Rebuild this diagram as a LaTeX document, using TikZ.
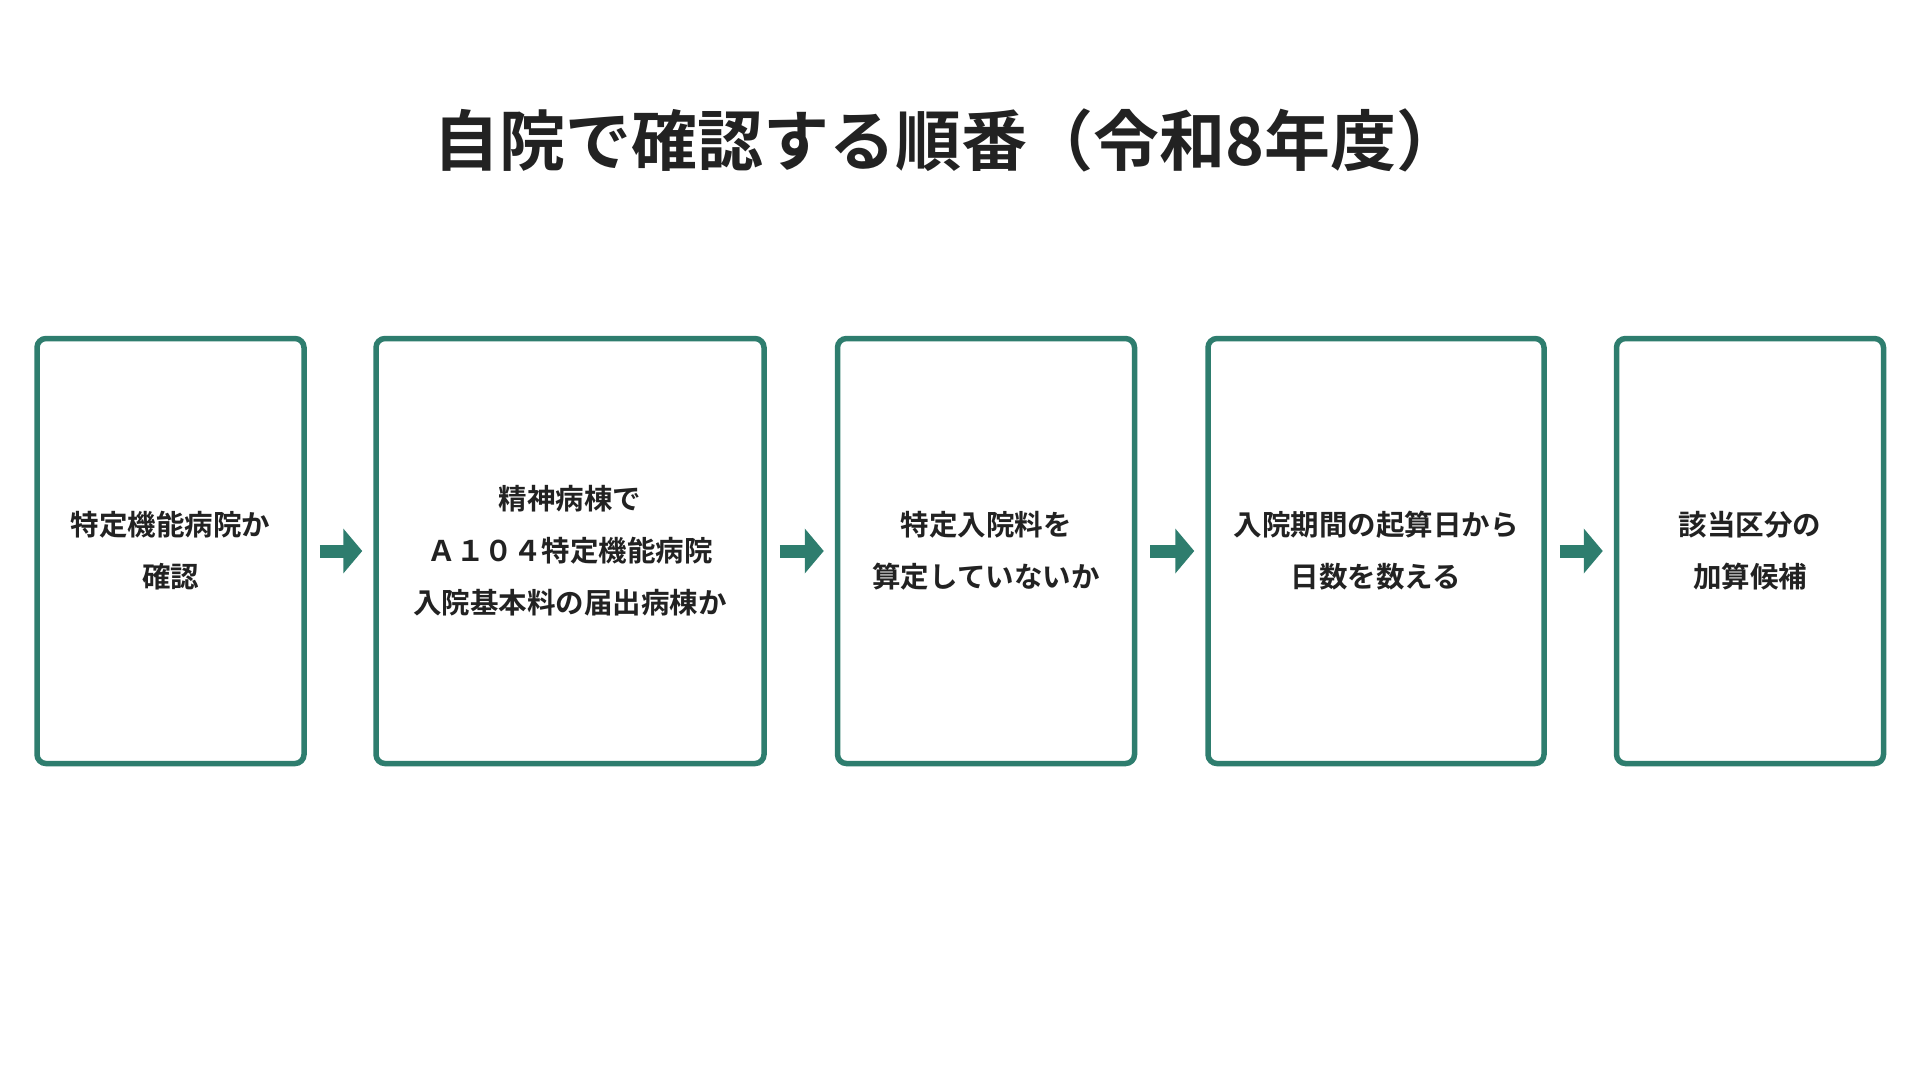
\documentclass[tikz,border=0pt]{standalone}
\usepackage{fontspec}
\setmainfont{Noto Sans CJK JP}[BoldFont={* Bold}]
\newfontfamily\titlefont{Noto Sans CJK JP}[BoldFont={* Bold}]
\usetikzlibrary{arrows.meta}
\definecolor{boxgreen}{HTML}{2E7D6E}
\definecolor{inkgray}{HTML}{222222}
\tikzset{
  stepbox/.style={draw=boxgreen, line width=5.5pt, rounded corners=9pt, fill=white,
    minimum height=425pt, inner sep=0pt, align=center, text=inkgray,
    font=\bfseries\fontsize{28.5}{52}\selectfont},
  flow/.style={draw=boxgreen, line width=13pt, shorten <=13pt, shorten >=11pt,
    -{Triangle[width=44pt,length=19pt]}}
}
\begin{document}
\begin{tikzpicture}[x=1pt,y=-1pt]
	\useasboundingbox (0,0) rectangle (1920,1080);
	%% title
	\node[text=inkgray, font=\titlefont\bfseries\fontsize{66}{72}\selectfont] (title) at (948,140) {自院で確認する順番（令和8年度）};
	%% steps
	\node[stepbox, minimum width=267pt] (s1) at (170.5,551) {特定機能病院か\\確認};
	\node[stepbox, minimum width=388pt] (s2) at (570,551) {精神病棟で\\Ａ１０４特定機能病院\\入院基本料の届出病棟か};
	\node[stepbox, minimum width=297pt] (s3) at (986,551) {特定入院料を\\算定していないか};
	\node[stepbox, minimum width=336pt] (s4) at (1376,551) {入院期間の起算日から\\日数を数える};
	\node[stepbox, minimum width=267pt] (s5) at (1750,551) {該当区分の\\加算候補};
	%% arrows
	\draw[flow] (s1) -- (s2);
	\draw[flow] (s2) -- (s3);
	\draw[flow] (s3) -- (s4);
	\draw[flow] (s4) -- (s5);
\end{tikzpicture}
\end{document}
